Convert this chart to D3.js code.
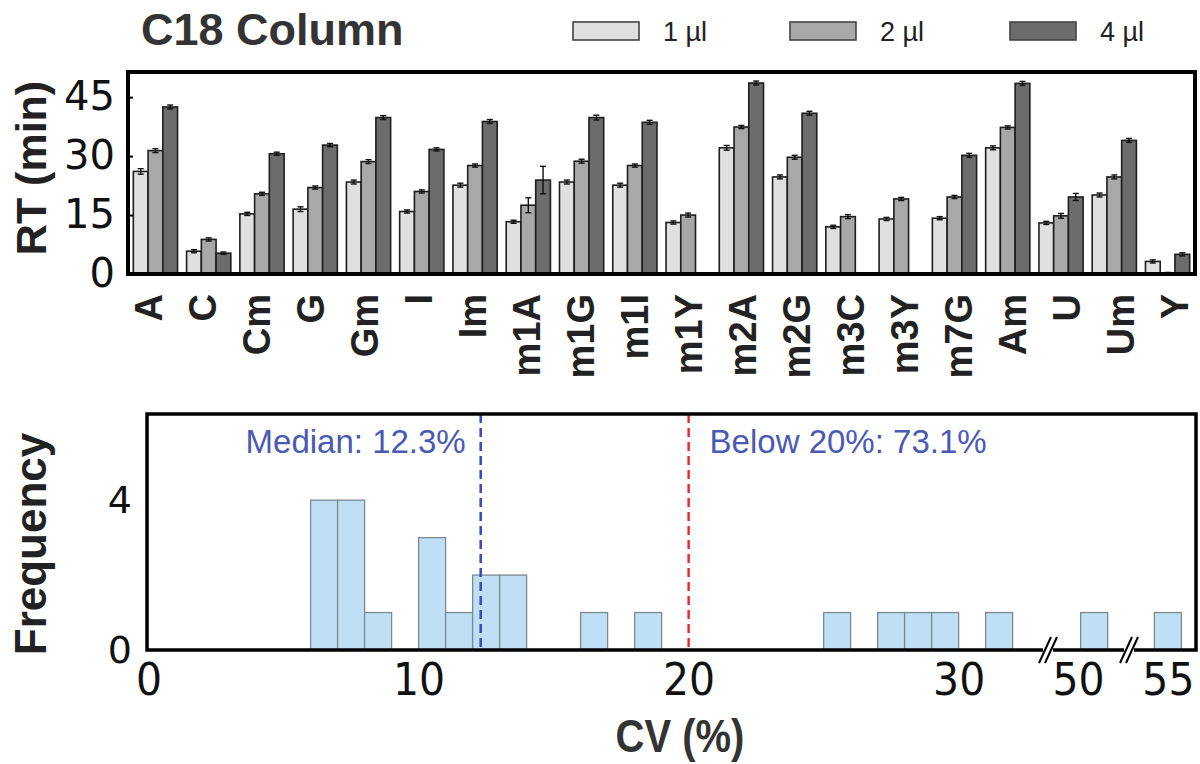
<!DOCTYPE html>
<html>
<head>
<meta charset="utf-8">
<script src="https://cdn.jsdelivr.net/npm/d3@7"></script>
<style>
  body { margin: 0; background: #fff; }
  svg { display: block; }
</style>
</head>
<body>
<div id="chart"></div>
<script>
const categories = ["A", "C", "Cm", "G", "Gm", "I", "Im", "m1A", "m1G", "m1I", "m1Y", "m2A", "m2G", "m3C", "m3Y", "m7G", "Am", "U", "Um", "Y"];
const seriesNames = ["1 µl", "2 µl", "4 µl"];
const rt1 = [26.1, 5.8, 15.3, 16.5, 23.4, 15.9, 22.6, 13.3, 23.4, 22.6, 13.1, 32.1, 24.7, 12.0, 14.0, 14.2, 32.1, 13.0, 20.1, 3.2];
const rt2 = [31.4, 8.8, 20.4, 22.0, 28.6, 21.0, 27.6, 17.5, 28.7, 27.6, 15.0, 37.4, 29.7, 14.6, 19.1, 19.6, 37.3, 14.8, 24.7, 0.3];
const rt4 = [42.5, 5.3, 30.6, 32.8, 39.8, 31.7, 38.8, 23.9, 39.8, 38.6, null, 48.6, 40.9, null, null, 30.2, 48.5, 19.6, 34.0, 5.0];
const err1 = [0.7, 0.4, 0.4, 0.6, 0.5, 0.4, 0.5, 0.4, 0.5, 0.5, 0.4, 0.6, 0.5, 0.4, 0.4, 0.4, 0.5, 0.4, 0.5, 0.4];
const err2 = [0.5, 0.4, 0.4, 0.4, 0.5, 0.4, 0.4, 1.9, 0.5, 0.4, 0.5, 0.4, 0.5, 0.5, 0.4, 0.4, 0.4, 0.6, 0.5, 0.1];
const err4 = [0.5, 0.3, 0.4, 0.4, 0.5, 0.4, 0.5, 3.5, 0.6, 0.5, null, 0.5, 0.5, null, null, 0.5, 0.5, 0.9, 0.5, 0.4];
const rtTicks = [0, 15, 30, 45];

// CV histogram (bins of 1 %)
const binStart = [6, 7, 8, 10, 11, 12, 13, 16, 18, 25, 27, 28, 29, 31, 50.1, 54.5];
const binCount = [4, 4, 1, 3, 1, 2, 2, 1, 1, 1, 1, 1, 1, 1, 1, 1];
const binWidth = 1;
const cvTicks = [0, 10, 20, 30, 50, 55];
const freqTicks = [0, 4];
const medianCV = 12.3;
const threshold = 20;
const belowPct = 73.1;

const width = 1200, height = 764;
const sans = "'Liberation Sans', Arial, sans-serif";
const deja = "'DejaVu Sans', sans-serif";

const svg = d3.select("#chart").append("svg")
    .attr("width", width)
    .attr("height", height);

// ---------- top: retention time bars ----------
const box1 = {left: 128, right: 1195, top: 72, bottom: 274};
const colors = ["#e0e0e0", "#a8a8a8", "#6c6c6c"];
const values = [rt1, rt2, rt4];
const errs = [err1, err2, err4];

const x = d3.scaleBand()
    .domain(categories)
    .range([box1.left, box1.right])
    .paddingInner(0.17)
    .paddingOuter(0.1);
const xs = d3.scaleBand()
    .domain(d3.range(3))
    .range([0, x.bandwidth()]);
// tick labels sit on a slightly wider spread than the bars
const xLab = d3.scalePoint()
    .domain(categories)
    .range([148, 1174]);
const y = d3.scaleLinear()
    .domain([0, 51.4])
    .range([box1.bottom, box1.top]);

const rows = [];
categories.forEach((c, i) => {
    values.forEach((arr, s) => {
        if (arr[i] != null) rows.push({cat: c, s: s, v: arr[i], e: errs[s][i]});
    });
});

svg.append("g").selectAll("rect")
    .data(rows)
    .enter()
    .append("rect")
    .attr("x", d => x(d.cat) + xs(d.s))
    .attr("y", d => y(d.v))
    .attr("width", xs.bandwidth())
    .attr("height", d => y(0) - y(d.v))
    .attr("fill", d => colors[d.s])
    .attr("stroke", "#1e1e1e")
    .attr("stroke-width", 1.6);

const eb = svg.append("g").attr("stroke", "#111").attr("stroke-width", 1.4);
rows.filter(d => d.e).forEach(d => {
    const cx = x(d.cat) + xs(d.s) + xs.bandwidth() / 2;
    eb.append("line").attr("x1", cx).attr("x2", cx).attr("y1", y(d.v + d.e)).attr("y2", y(d.v - d.e));
    eb.append("line").attr("x1", cx - 3).attr("x2", cx + 3).attr("y1", y(d.v + d.e)).attr("y2", y(d.v + d.e));
    eb.append("line").attr("x1", cx - 3).attr("x2", cx + 3).attr("y1", y(d.v - d.e)).attr("y2", y(d.v - d.e));
});

svg.append("rect")
    .attr("x", box1.left).attr("y", box1.top)
    .attr("width", box1.right - box1.left).attr("height", box1.bottom - box1.top)
    .attr("fill", "none").attr("stroke", "#000").attr("stroke-width", 4);

const yAx = svg.append("g")
    .attr("transform", `translate(${box1.left},0)`)
    .call(d3.axisLeft(y).tickValues(rtTicks).tickSize(-5).tickPadding(13));
yAx.select(".domain").remove();
yAx.selectAll("line").attr("stroke", "#000").attr("stroke-width", 2);
yAx.selectAll("text").attr("font-family", deja).attr("font-size", 40).attr("fill", "#111");

svg.append("g").selectAll("text")
    .data(categories)
    .enter()
    .append("text")
    .attr("transform", d => `translate(${xLab(d)},294) rotate(-90)`)
    .attr("dy", "0.36em")
    .attr("text-anchor", "end")
    .attr("font-family", sans)
    .attr("font-weight", "bold")
    .attr("font-size", 38)
    .attr("fill", "#222")
    .text(d => d);

svg.append("text")
    .attr("transform", `translate(46,${(box1.top + box1.bottom) / 2 - 5}) rotate(-90)`)
    .attr("text-anchor", "middle")
    .attr("font-family", sans)
    .attr("font-weight", "bold")
    .attr("font-size", 43)
    .attr("fill", "#222")
    .text("RT (min)");

svg.append("text")
    .attr("x", 141).attr("y", 45)
    .attr("font-family", sans)
    .attr("font-weight", "bold")
    .attr("font-size", 45)
    .attr("fill", "#333")
    .text("C18 Column");

const legendX = [573, 790, 1010];
seriesNames.forEach((n, i) => {
    svg.append("rect")
        .attr("x", legendX[i]).attr("y", 22)
        .attr("width", 66).attr("height", 18)
        .attr("fill", colors[i])
        .attr("stroke", "#444").attr("stroke-width", 1.6);
    svg.append("text")
        .attr("x", legendX[i] + 90).attr("y", 41)
        .attr("font-family", sans)
        .attr("font-size", 27)
        .attr("fill", "#222")
        .text(n);
});

// ---------- bottom: CV histogram ----------
const box2 = {left: 147, right: 1196, top: 414, bottom: 650};
const xh = d3.scaleLinear()
    .domain([0, 33.31, 48.89, 51.89, 53.56, 56.04])
    .range([148.6, 1048, 1048, 1129, 1129, 1196]);
const yh = d3.scaleLinear()
    .domain([0, 6.3])
    .range([box2.bottom, box2.top]);

svg.append("g").selectAll("rect")
    .data(binStart.map((b, i) => ({b: b, n: binCount[i]})))
    .enter()
    .append("rect")
    .attr("x", d => xh(d.b))
    .attr("y", d => yh(d.n))
    .attr("width", d => xh(d.b + binWidth) - xh(d.b))
    .attr("height", d => yh(0) - yh(d.n))
    .attr("fill", "#bfe0f4")
    .attr("stroke", "#7d8890")
    .attr("stroke-width", 1.3);

svg.append("line")
    .attr("x1", xh(medianCV)).attr("x2", xh(medianCV))
    .attr("y1", box2.top).attr("y2", box2.bottom)
    .attr("stroke", "#3a4cc0").attr("stroke-width", 2.6)
    .attr("stroke-dasharray", "9,5");
svg.append("line")
    .attr("x1", xh(threshold)).attr("x2", xh(threshold))
    .attr("y1", box2.top).attr("y2", box2.bottom)
    .attr("stroke", "#e8262c").attr("stroke-width", 2.4)
    .attr("stroke-dasharray", "9,5");

svg.append("text")
    .attr("x", xh(medianCV) - 15).attr("y", 453)
    .attr("text-anchor", "end")
    .attr("font-family", sans)
    .attr("font-size", 33)
    .attr("fill", "#4a5ab4")
    .text(`Median: ${medianCV}%`);
svg.append("text")
    .attr("x", xh(threshold) + 21).attr("y", 453)
    .attr("font-family", sans)
    .attr("font-size", 33)
    .attr("fill", "#4a5ab4")
    .text(`Below ${threshold}%: ${belowPct}%`);

svg.append("rect")
    .attr("x", box2.left).attr("y", box2.top)
    .attr("width", box2.right - box2.left).attr("height", box2.bottom - box2.top)
    .attr("fill", "none").attr("stroke", "#000").attr("stroke-width", 3.5);

// axis break marks
[1048, 1129].forEach(bx => {
    const g = svg.append("g");
    g.append("rect").attr("x", bx - 5).attr("y", box2.bottom - 3).attr("width", 10).attr("height", 6).attr("fill", "#fff");
    [-3, 3].forEach(o => {
        g.append("line")
            .attr("x1", bx + o - 6).attr("y1", box2.bottom + 13)
            .attr("x2", bx + o + 6).attr("y2", box2.bottom - 13)
            .attr("stroke", "#000").attr("stroke-width", 2);
    });
});

const xAx = svg.append("g")
    .attr("transform", `translate(0,${box2.bottom})`)
    .call(d3.axisBottom(xh).tickValues(cvTicks).tickSize(0).tickPadding(12));
xAx.select(".domain").remove();
xAx.selectAll("text")
    .attr("font-family", deja).attr("font-size", 41).attr("fill", "#111")
    .attr("transform", "scale(1,1.1)");

const fAx = svg.append("g")
    .attr("transform", `translate(${box2.left},0)`)
    .call(d3.axisLeft(yh).tickValues(freqTicks).tickFormat(d3.format("d")).tickSize(0).tickPadding(15));
fAx.select(".domain").remove();
fAx.selectAll("text").attr("font-family", deja).attr("font-size", 38).attr("fill", "#111");

svg.append("text")
    .attr("transform", `translate(46,${(box2.top + box2.bottom) / 2 + 12}) rotate(-90)`)
    .attr("text-anchor", "middle")
    .attr("font-family", sans)
    .attr("font-weight", "bold")
    .attr("font-size", 44)
    .attr("fill", "#222")
    .text("Frequency");

svg.append("text")
    .attr("transform", "translate(680,752) scale(1,1.15)")
    .attr("text-anchor", "middle")
    .attr("font-family", sans)
    .attr("font-weight", "bold")
    .attr("font-size", 40)
    .attr("fill", "#333")
    .text("CV (%)");
</script>
</body>
</html>
